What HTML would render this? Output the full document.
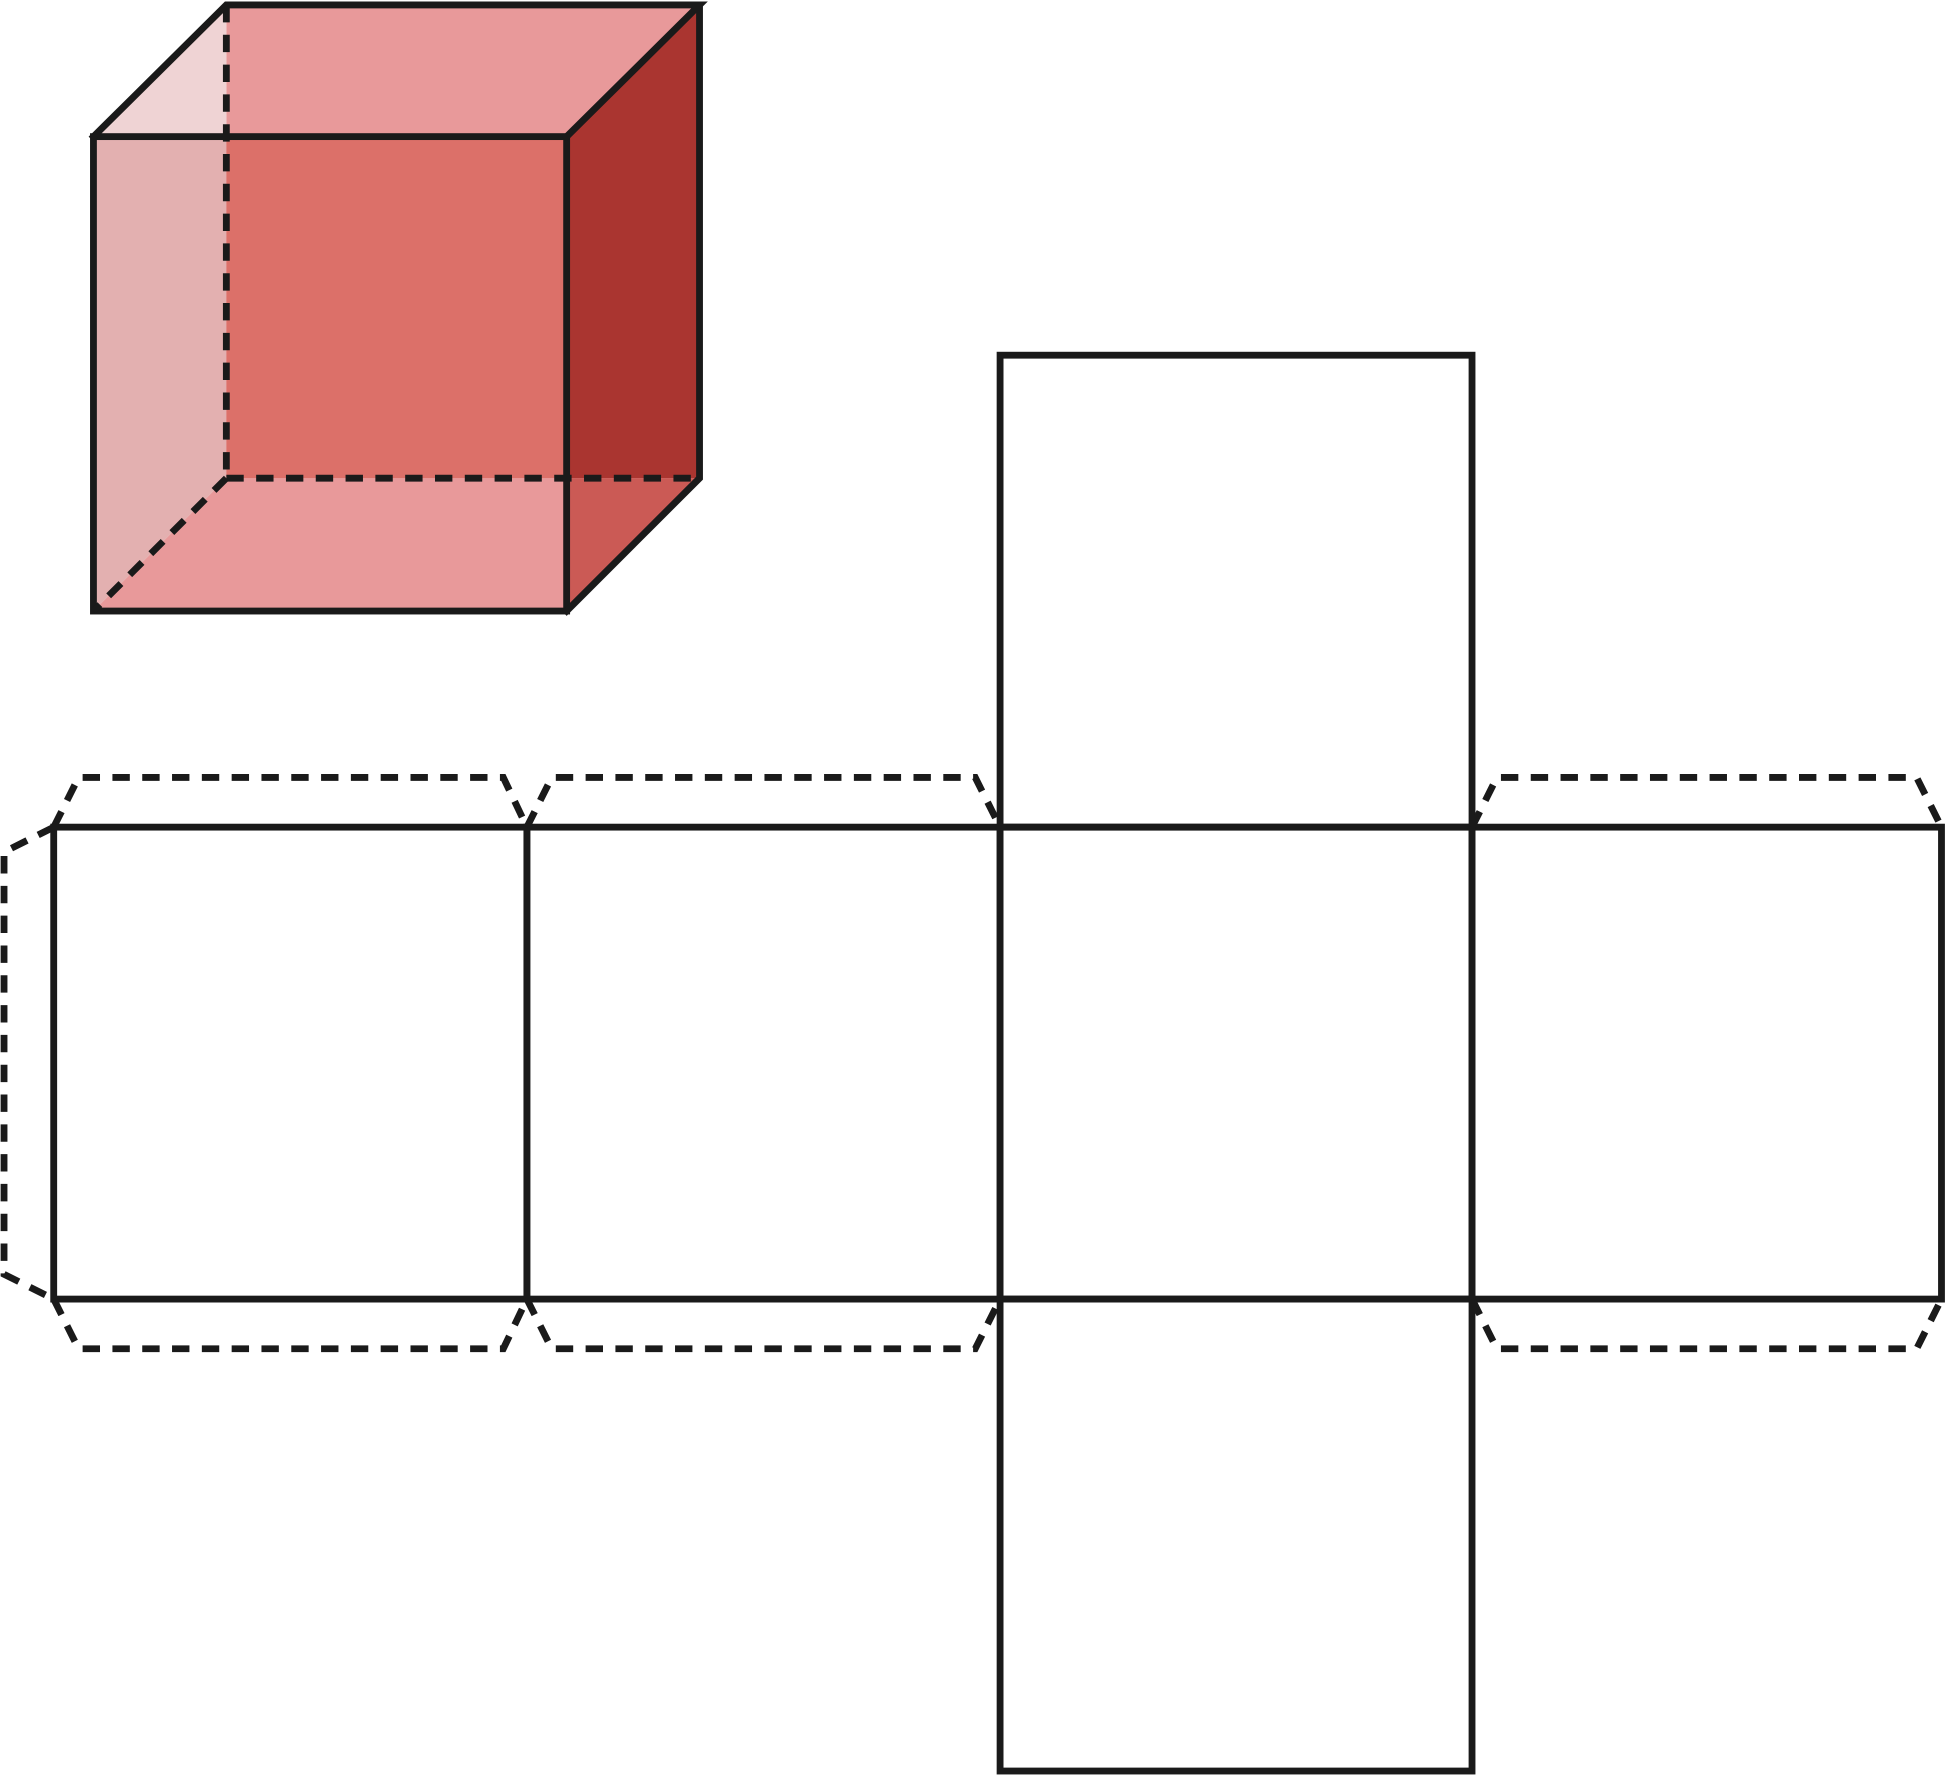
<!DOCTYPE html>
<html><head><meta charset="utf-8"><style>html,body{margin:0;padding:0;background:#fff}svg{display:block}</style></head>
<body>
<svg width="1948" height="1776" viewBox="0 0 1568 1430" xmlns="http://www.w3.org/2000/svg">
<rect width="1568" height="1430" fill="#fff"/>
<g stroke="none">
<rect x="182" y="4" width="381" height="381" fill="#e8999a"/>
<polygon points="75,110 182,4 182,110" fill="#efd3d4"/>
<polygon points="75,110 182,110 182,385 75,492" fill="#e3b0b0"/>
<polygon points="75,492 182,385 563,385 456,492" fill="#e8999a"/>
<rect x="182" y="110" width="274" height="275" fill="#dc7069"/>
<polygon points="456,110 563,4 563,385 456,385" fill="#aa3530"/>
<polygon points="456,385 563,385 456,492" fill="#cb5a55"/>
</g>
<g fill="none" stroke="#1a1a1a" stroke-width="5.5" stroke-linejoin="miter" stroke-linecap="square">
<rect x="75" y="110" width="381" height="382"/>
<polyline points="75,110 182,4 563,4 456,110"/>
<polyline points="563,4 563,385 456,492"/>
</g>
<g fill="none" stroke="#1a1a1a" stroke-width="5.5" stroke-dasharray="14,10">
<line x1="182" y1="4" x2="182" y2="385"/>
<line x1="182" y1="385" x2="563" y2="385"/>
<line x1="182" y1="385" x2="75" y2="492"/>
</g>
<g fill="none" stroke="#1a1a1a" stroke-width="5.5">
<rect x="43" y="666" width="381" height="380"/>
<rect x="424" y="666" width="381" height="380"/>
<rect x="805" y="666" width="380" height="380"/>
<rect x="1185" y="666" width="378" height="380"/>
<rect x="805" y="286" width="380" height="380"/>
<rect x="805" y="1046" width="380" height="380"/>
</g>
<g fill="none" stroke="#1a1a1a" stroke-width="5.5" stroke-dasharray="14,10">
<polyline points="43,666 63,626 405,626 424,666"/>
<polyline points="424,666 444,626 785,626 805,666"/>
<polyline points="1185,666 1205,626 1543,626 1563,666"/>
<polyline points="43,1046 63,1086 405,1086 424,1046"/>
<polyline points="424,1046 444,1086 785,1086 805,1046"/>
<polyline points="1185,1046 1205,1086 1543,1086 1563,1046"/>
<polyline points="43,666 3,686 3,1026 43,1046"/>
</g>
</svg>
</body></html>
